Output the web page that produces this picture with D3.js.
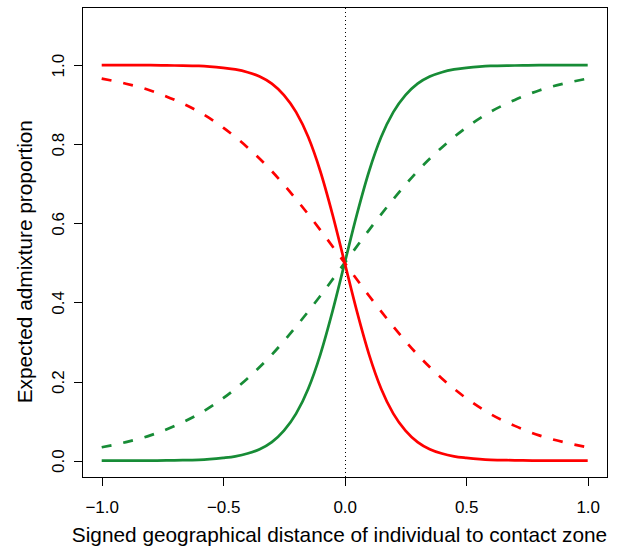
<!DOCTYPE html>
<html>
<head>
<meta charset="utf-8">
<script src="https://cdn.jsdelivr.net/npm/d3@7"></script>
<style>
  body { margin: 0; background: #fff; }
  svg { display: block; font-family: "Liberation Sans", Arial, Helvetica, sans-serif; }
</style>
</head>
<body>
<svg id="chart"></svg>
<script>
// values
const xSolid = [-1, -0.9, -0.8, -0.7, -0.6, -0.5, -0.45, -0.4, -0.35, -0.3, -0.25, -0.2, -0.15, -0.1, -0.05,
                0, 0.05, 0.1, 0.15, 0.2, 0.25, 0.3, 0.35, 0.4, 0.45, 0.5, 0.6, 0.7, 0.8, 0.9, 1];
const redSolid = [1.000, 1.000, 1.000, 0.999, 0.998, 0.993, 0.989, 0.982, 0.971, 0.953, 0.924, 0.881, 0.818, 0.731, 0.622,
                  0.500, 0.378, 0.269, 0.182, 0.119, 0.076, 0.047, 0.029, 0.018, 0.011, 0.007, 0.002, 0.001, 0.000, 0.000, 0.000];
const greenSolid = [0.000, 0.000, 0.000, 0.001, 0.002, 0.007, 0.011, 0.018, 0.029, 0.047, 0.076, 0.119, 0.182, 0.269, 0.378,
                    0.500, 0.622, 0.731, 0.818, 0.881, 0.924, 0.953, 0.971, 0.982, 0.989, 0.993, 0.998, 0.999, 1.000, 1.000, 1.000];

const xDashed = [-1, -0.9, -0.8, -0.7, -0.6, -0.5, -0.4, -0.3, -0.2, -0.1, 0, 0.1, 0.2, 0.3, 0.4, 0.5, 0.6, 0.7, 0.8, 0.9, 1];
const redDashed = [0.966, 0.953, 0.936, 0.912, 0.882, 0.842, 0.792, 0.732, 0.661, 0.583, 0.500,
                   0.417, 0.339, 0.268, 0.208, 0.158, 0.118, 0.088, 0.064, 0.047, 0.034];
const greenDashed = [0.034, 0.047, 0.064, 0.088, 0.118, 0.158, 0.208, 0.268, 0.339, 0.417, 0.500,
                     0.583, 0.661, 0.732, 0.792, 0.842, 0.882, 0.912, 0.936, 0.953, 0.966];

const xTicks = [-1, -0.5, 0, 0.5, 1];
const yTicks = [0, 0.2, 0.4, 0.6, 0.8, 1];
const contactZone = 0;

const RED = "#ff0000", GREEN = "#178c36";

const svg = d3.select("#chart").attr("width", 620).attr("height", 550);

const box = {left: 82.5, right: 607.5, top: 7.5, bottom: 477.5};

const x = d3.scaleLinear().domain([-1, 1]).range([101.7, 587.7]);
const y = d3.scaleLinear().domain([0, 1]).range([460.7, 65.1]);

// dotted line at the contact zone
svg.append("line")
   .attr("x1", Math.round(x(contactZone)) + 0.5).attr("x2", Math.round(x(contactZone)) + 0.5)
   .attr("y1", box.top).attr("y2", box.bottom)
   .attr("stroke", "#000").attr("stroke-width", 1)
   .attr("stroke-dasharray", "1,3")
   .attr("shape-rendering", "crispEdges");

function drawCurve(xs, ys, color, dashed) {
    const line = d3.line()
                   .x(d => x(d[0]))
                   .y(d => y(d[1]))
                   .curve(d3.curveMonotoneX);
    svg.append("path")
       .datum(xs.map((v, i) => [v, ys[i]]))
       .attr("d", line)
       .attr("fill", "none")
       .attr("stroke", color)
       .attr("stroke-width", 2.7)
       .attr("stroke-dasharray", dashed ? "10,12" : null);
}

drawCurve(xSolid, greenSolid, GREEN, false);
drawCurve(xDashed, greenDashed, GREEN, true);
drawCurve(xSolid, redSolid, RED, false);
drawCurve(xDashed, redDashed, RED, true);

// box
svg.append("rect")
   .attr("x", box.left).attr("y", box.top)
   .attr("width", box.right - box.left).attr("height", box.bottom - box.top)
   .attr("fill", "none").attr("stroke", "#000").attr("stroke-width", 1)
   .attr("shape-rendering", "crispEdges");

// x axis
const gx = svg.append("g")
   .attr("transform", `translate(0,${box.bottom})`)
   .call(d3.axisBottom(x).tickValues(xTicks).tickFormat(d3.format(".1f")).tickSize(8.5));
gx.select(".domain").remove();
gx.selectAll("line").attr("stroke", "#000").attr("shape-rendering", "crispEdges");
gx.selectAll("text")
  .attr("dy", null).attr("y", 35.8)
  .attr("font-size", "17px").attr("font-family", null).attr("fill", "#000");

// y axis
const gy = svg.append("g")
   .attr("transform", `translate(${box.left},0)`)
   .call(d3.axisLeft(y).tickValues(yTicks).tickFormat(d3.format(".1f")).tickSize(8.5));
gy.select(".domain").remove();
gy.selectAll("line").attr("stroke", "#000").attr("shape-rendering", "crispEdges");
gy.selectAll("text")
  .attr("x", null).attr("dy", null)
  .attr("text-anchor", "middle")
  .attr("transform", "translate(-18.5,0) rotate(-90)")
  .attr("font-size", "17px").attr("font-family", null).attr("fill", "#000");

// titles
svg.append("text")
   .attr("x", 339.5).attr("y", 541.7)
   .attr("text-anchor", "middle")
   .attr("font-size", "20.8px")
   .text("Signed geographical distance of individual to contact zone");

svg.append("text")
   .attr("transform", "translate(32,261.7) rotate(-90)")
   .attr("text-anchor", "middle")
   .attr("font-size", "20.8px")
   .text("Expected admixture proportion");
</script>
</body>
</html>
